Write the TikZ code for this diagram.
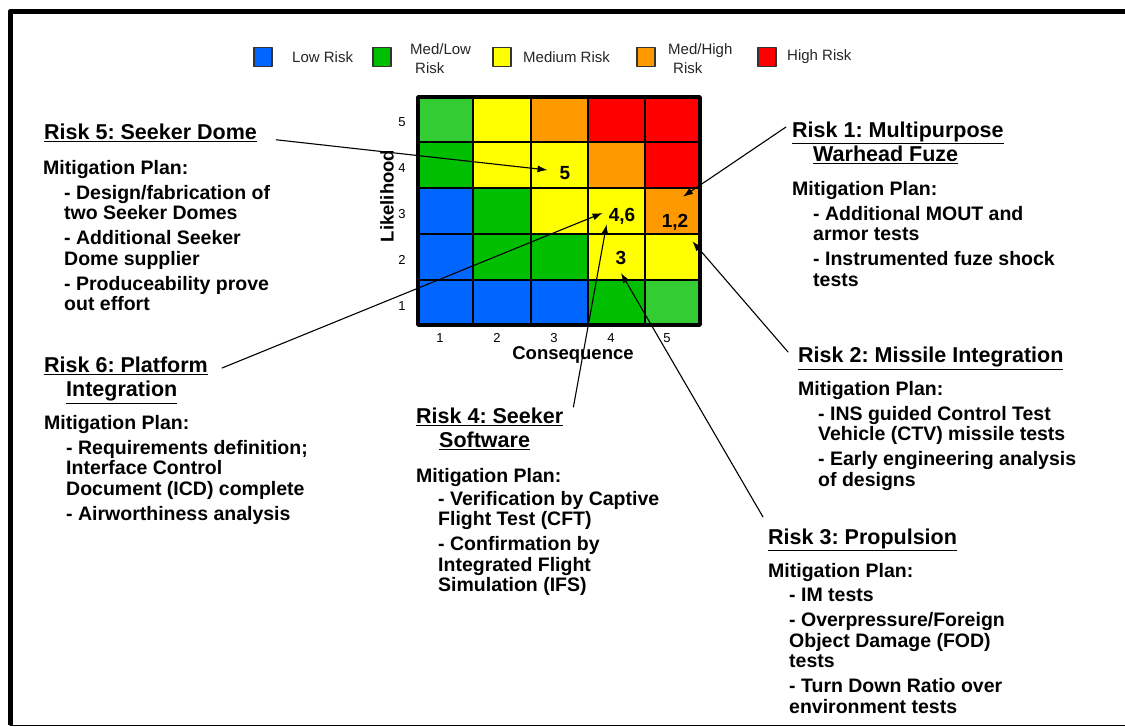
\documentclass[tikz,border=0pt]{standalone}
\usepackage{fontspec}
\setmainfont{Liberation Sans}
\usepackage{tikz}
\usetikzlibrary{arrows.meta}
\frenchspacing

\definecolor{lowrisk}{HTML}{0066FF}
\definecolor{medlowrisk}{HTML}{00BF00}
\definecolor{lightmedlow}{HTML}{33CC33}
\definecolor{medrisk}{HTML}{FFFF00}
\definecolor{medhighrisk}{HTML}{FF9900}
\definecolor{highrisk}{HTML}{FF0000}

\tikzset{
  riskhead/.style={anchor=north west,inner sep=0pt,align=left,font=\fontsize{21.5}{24}\selectfont\bfseries},
  plantext/.style={anchor=north west,inner sep=0pt,align=left,font=\fontsize{19.5}{20.5}\selectfont\bfseries},
  cellnum/.style={inner sep=0pt,font=\fontsize{19}{20}\selectfont\bfseries},
  axisnum/.style={inner sep=0pt,font=\fontsize{13}{14}\selectfont},
  axislabel/.style={inner sep=0pt,font=\fontsize{18.5}{20}\selectfont\bfseries},
  legbox/.style={draw=black!80,line width=1.2pt,minimum width=18pt,minimum height=19pt,inner sep=0pt},
  legtext/.style={anchor=west,inner sep=0pt,align=left,font=\fontsize{15}{19}\selectfont,text=black!85},
  riskarrow/.style={->,line width=1.1pt}
}

\begin{document}
\begin{tikzpicture}[x=1pt,y=-1pt,>={Latex[length=10pt,width=7pt]},line cap=round,line join=round]
  \useasboundingbox (0,0) rectangle (1125,727);

  % outer frame
  \draw[line width=5pt,line cap=butt] (10,725) -- (10,11.5) -- (1125,11.5);
  \draw[line width=1pt] (10,725.5) -- (1125,725.5);

  % legend
  \node[legbox,fill=lowrisk] (kblue) at (263,57) {};
  \node[legtext] (kbluetxt) at (292,57) {Low Risk};
  \node[legbox,fill=medlowrisk] (kgreen) at (382,57) {};
  \node[legtext] (kgreentxt) at (410,58.5) {Med/Low\\\hspace*{5pt}Risk};
  \node[legbox,fill=medrisk] (kyellow) at (502,57) {};
  \node[legtext] (kyellowtxt) at (523,57) {Medium Risk};
  \node[legbox,fill=medhighrisk] (korange) at (646,57) {};
  \node[legtext] (korangetxt) at (668,58.5) {Med/High\\\hspace*{5pt}Risk};
  \node[legbox,fill=highrisk] (kred) at (767,57) {};
  \node[legtext] (kredtxt) at (787,57) {High Risk};

  % risk matrix cells, likelihood 5 at the top
  \fill[lightmedlow] (418,97) rectangle (473,142);
  \fill[medrisk] (473,97) rectangle (531,142);
  \fill[medhighrisk] (531,97) rectangle (588,142);
  \fill[highrisk] (588,97) rectangle (645,142);
  \fill[highrisk] (645,97) rectangle (700,142);

  \fill[medlowrisk] (418,142) rectangle (473,188);
  \fill[medrisk] (473,142) rectangle (531,188);
  \fill[medrisk] (531,142) rectangle (588,188);
  \fill[medhighrisk] (588,142) rectangle (645,188);
  \fill[highrisk] (645,142) rectangle (700,188);

  \fill[lowrisk] (418,188) rectangle (473,234);
  \fill[medlowrisk] (473,188) rectangle (531,234);
  \fill[medrisk] (531,188) rectangle (588,234);
  \fill[medrisk] (588,188) rectangle (645,234);
  \fill[medhighrisk] (645,188) rectangle (700,234);

  \fill[lowrisk] (418,234) rectangle (473,280);
  \fill[medlowrisk] (473,234) rectangle (531,280);
  \fill[medlowrisk] (531,234) rectangle (588,280);
  \fill[medrisk] (588,234) rectangle (645,280);
  \fill[medrisk] (645,234) rectangle (700,280);

  \fill[lowrisk] (418,280) rectangle (473,325);
  \fill[lowrisk] (473,280) rectangle (531,325);
  \fill[lowrisk] (531,280) rectangle (588,325);
  \fill[medlowrisk] (588,280) rectangle (645,325);
  \fill[lightmedlow] (645,280) rectangle (700,325);

  \draw[line width=1.3pt] (473,97) -- (473,325);
  \draw[line width=1.3pt] (531,97) -- (531,325);
  \draw[line width=1.3pt] (588,97) -- (588,325);
  \draw[line width=1.3pt] (645,97) -- (645,325);
  \draw[line width=1.3pt] (418,142) -- (700,142);
  \draw[line width=1.3pt] (418,188) -- (700,188);
  \draw[line width=1.3pt] (418,234) -- (700,234);
  \draw[line width=1.3pt] (418,280) -- (700,280);
  \draw[line width=3.5pt,line cap=butt] (418,97) rectangle (700,325);

  % axes
  \node[axisnum] (l5) at (402,122) {5};
  \node[axisnum] (l4) at (402,168) {4};
  \node[axisnum] (l3) at (402,214) {3};
  \node[axisnum] (l2) at (402,260) {2};
  \node[axisnum] (l1) at (402,306) {1};
  \node[axisnum] (c1) at (440,338) {1};
  \node[axisnum] (c2) at (497,338) {2};
  \node[axisnum] (c3) at (554,338) {3};
  \node[axisnum] (c4) at (611,338) {4};
  \node[axisnum] (c5) at (667,338) {5};
  \node[axislabel] (conseq) at (573,355) {Consequence};
  \node[axislabel,rotate=90] (likely) at (387,196) {Likelihood};

  % risk numbers in the matrix
  \node[cellnum] (n5) at (565,173) {5};
  \node[cellnum] (n46) at (622,216) {4,6};
  \node[cellnum] (n12) at (675,222) {1,2};
  \node[cellnum] (n3) at (621,258) {3};

  % Risk 5
  \node[riskhead] (t5) at (44,124) {\underline{Risk 5: Seeker Dome}};
  \node[plantext] (h5) at (43,160) {Mitigation Plan:};
  \node[plantext] (p5) at (64,185) {- Design/fabrication of\\two Seeker Domes\\[4.5pt]
    - Additional Seeker\\Dome supplier\\[4.5pt]
    - Produceability prove\\out effort};

  % Risk 1
  \node[riskhead] (t1) at (792,122) {\underline{Risk 1: Multipurpose}\\\hspace*{21pt}\underline{Warhead Fuze}};
  \node[plantext] (h1) at (792,181) {Mitigation Plan:};
  \node[plantext] (p1) at (813,206) {- Additional MOUT and\\armor tests\\[4.5pt]
    - Instrumented fuze shock\\tests};

  % Risk 6
  \node[riskhead] (t6) at (44,357) {\underline{Risk 6: Platform}\\\hspace*{22pt}\underline{Integration}};
  \node[plantext] (h6) at (44,415) {Mitigation Plan:};
  \node[plantext] (p6) at (66,440) {- Requirements definition;\\Interface Control\\Document (ICD) complete\\[4.5pt]
    - Airworthiness analysis};

  % Risk 4
  \node[riskhead] (t4) at (416,408) {\underline{Risk 4: Seeker}\\\hspace*{23pt}\underline{Software}};
  \node[plantext] (h4) at (416,468) {Mitigation Plan:};
  \node[plantext] (p4) at (438,491) {- Verification by Captive\\Flight Test (CFT)\\[4.5pt]
    - Confirmation by\\Integrated Flight\\Simulation (IFS)};

  % Risk 2
  \node[riskhead] (t2) at (798,347) {\underline{Risk 2: Missile Integration}};
  \node[plantext] (h2) at (798,381) {Mitigation Plan:};
  \node[plantext] (p2) at (818,406) {- INS guided Control Test\\Vehicle (CTV) missile tests\\[4.5pt]
    - Early engineering analysis\\of designs};

  % Risk 3
  \node[riskhead] (t3) at (768,529) {\underline{Risk 3: Propulsion}};
  \node[plantext] (h3) at (768,563) {Mitigation Plan:};
  \node[plantext] (p3) at (789,588) {- IM tests\\[4.5pt]
    - Overpressure/Foreign\\Object Damage (FOD)\\tests\\[4.5pt]
    - Turn Down Ratio over\\environment tests};

  % arrows from the risks to the matrix
  \draw[riskarrow] ([xshift=19pt]t5.base east) -- ([xshift=-12pt,yshift=3pt]n5.west);
  \draw[riskarrow] ([xshift=-6pt,yshift=-5pt]t1.north west) -- ([xshift=8pt,yshift=17pt]n12.north);
  \draw[riskarrow] ([xshift=-10pt,yshift=-5pt]t2.north west) -- ([xshift=4pt,yshift=-11pt]n12.south east);
  \draw[riskarrow] ([xshift=14pt,yshift=-11pt]t6.north east) -- ([xshift=-6pt,yshift=3pt]n46.west);
  \draw[riskarrow] ([xshift=10pt,yshift=1pt]t4.north east) -- ([xshift=-2pt]n46.south west);
  \draw[riskarrow] ([xshift=-5pt,yshift=12pt]t3.north west) -- ([yshift=-8pt]n3.south);
\end{tikzpicture}
\end{document}
